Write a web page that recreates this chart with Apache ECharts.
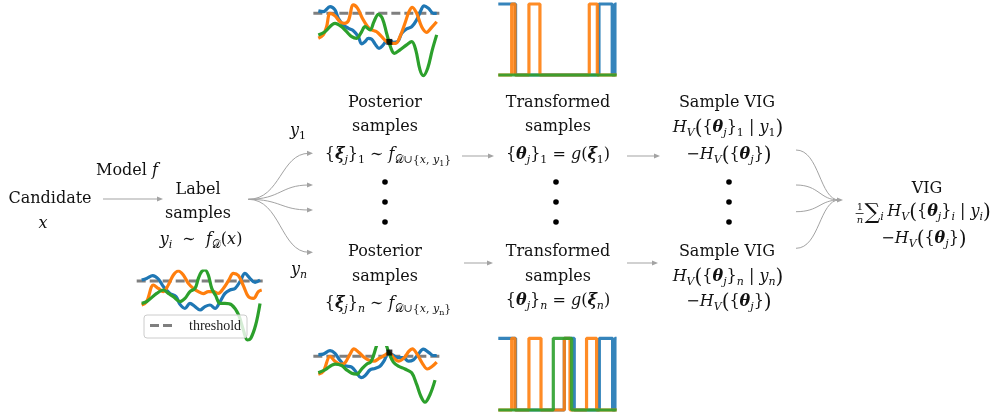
<!DOCTYPE html>
<html>
<head>
<meta charset="utf-8">
<script src="https://cdn.jsdelivr.net/npm/echarts@6/dist/echarts.min.js"></script>
<style>
  html, body { margin: 0; padding: 0; background: #ffffff; }
  #chart { width: 1003px; height: 417px; }
</style>
</head>
<body>
<div id="chart"></div>
<script>
// ---------------- data ----------------
// Smooth sample paths: [t, value]; the decision threshold sits at 1.
const thresholdLevel = 1;
const thresholdSpan = [-0.42, 10.42];

// label samples y_i ~ f_D(x)
const labelBlue = [[0,1.05],[0.42,1.13],[0.93,1.27],[1.41,1.10],[1.83,0.72],[2.39,0.38],[2.90,0.22],[3.24,-0.17],[3.66,-0.37],[4.08,-0.12],[4.51,-0.28],[4.93,-0.45],[5.35,-0.28],[5.77,-0.20],[6.20,-0.37],[6.62,-0.03],[7.04,0.38],[7.46,0.55],[7.89,0.63],[8.31,0.97],[8.73,1.38],[9.15,1.13],[9.58,0.93],[10.0,1.05]];
const labelOrange = [[0,-0.20],[0.42,-0.03],[0.99,0.80],[1.41,0.63],[1.83,0.47],[2.25,0.80],[2.68,1.30],[3.10,1.50],[3.52,1.30],[3.94,0.88],[4.37,0.63],[4.79,0.47],[5.21,0.37],[5.63,0.47],[6.06,0.47],[6.48,0.38],[6.90,0.63],[7.32,1.00],[7.75,1.38],[8.17,1.27],[8.59,0.77],[9.01,0.22],[9.44,0.13],[9.86,0.47],[10.14,0.55]];
const labelGreen = [[0,-0.12],[0.42,-0.03],[1.27,0.38],[1.83,0.55],[2.25,0.38],[2.68,0.22],[3.24,-0.03],[3.66,0.13],[4.08,0.47],[4.51,0.63],[4.79,1.13],[5.07,1.47],[5.35,1.55],[5.63,1.30],[5.92,0.63],[6.25,0.27],[6.62,-0.12],[7.04,-0.12],[7.61,-0.20],[8.17,-0.67],[8.59,-1.45],[8.93,-1.95],[9.21,-1.87],[9.63,-1.20],[10.0,-0.12]];

// posterior samples conditioned on y_1
const postY1Blue = [[0,1.12],[0.42,1.08],[0.99,1.33],[1.41,1.17],[1.69,0.75],[2.11,0.42],[2.54,0.25],[2.96,0.13],[3.38,-0.17],[3.66,-0.53],[3.94,-0.42],[4.23,-0.25],[4.51,-0.30],[4.79,-0.53],[5.13,-0.75],[5.49,-0.58],[5.77,-0.37],[6.06,-0.37],[6.34,-0.45],[6.70,-0.42],[7.04,0.0],[7.46,0.22],[7.89,0.33],[8.31,0.67],[8.68,1.17],[8.93,1.37],[9.30,1.25],[9.72,1.0],[10.0,1.0]];
const postY1Orange = [[0,-0.25],[0.42,-0.08],[0.70,0.33],[0.99,1.0],[1.41,0.87],[1.83,0.58],[2.20,0.50],[2.54,0.63],[2.96,1.42],[3.32,1.25],[3.72,0.75],[4.17,0.33],[4.51,0.17],[4.93,0.08],[5.35,-0.17],[5.77,-0.42],[6.14,-0.50],[6.54,-0.50],[6.90,-0.17],[7.32,0.50],[7.66,1.08],[7.94,1.30],[8.31,1.0],[8.73,0.33],[9.15,0.05],[9.58,0.30],[10.0,0.58]];
const postY1Green = [[0,-0.08],[0.56,0.08],[1.41,0.50],[1.97,0.33],[2.39,0.08],[2.82,-0.17],[3.24,-0.25],[3.66,0.08],[3.94,0.33],[4.37,0.17],[4.70,0.58],[5.07,0.95],[5.41,0.75],[5.77,0.0],[6.14,-0.75],[6.42,-1.0],[6.90,-0.83],[7.46,-0.58],[7.89,-0.42],[8.23,-0.83],[8.59,-1.83],[8.87,-2.12],[9.24,-1.75],[9.63,-0.83],[10.0,-0.08]];
const postY1Observed = [[6.0,-0.43]];

// posterior samples conditioned on y_n
const postYnBlue = [[0,1.10],[0.42,1.13],[0.99,1.33],[1.41,1.17],[1.83,0.77],[2.25,0.47],[2.82,0.38],[3.24,0.05],[3.61,-0.23],[3.94,-0.12],[4.37,0.22],[4.79,0.30],[5.21,0.43],[5.58,0.77],[5.92,1.18],[6.25,1.10],[6.70,0.93],[7.18,0.93],[7.61,0.72],[8.03,0.80],[8.45,1.13],[8.87,1.42],[9.35,1.22],[9.72,1.05],[10.0,1.05]];
const postYnOrange = [[0,-0.03],[0.42,0.13],[0.99,1.0],[1.41,0.72],[1.83,0.55],[2.25,0.63],[2.68,1.13],[3.01,1.43],[3.44,1.22],[3.89,0.93],[4.28,0.77],[4.70,0.72],[5.13,0.88],[5.58,1.05],[5.97,1.22],[6.34,0.93],[6.76,0.72],[7.27,0.93],[7.66,1.30],[7.94,1.43],[8.37,1.10],[8.79,0.60],[9.21,0.27],[9.63,0.43],[10.0,0.67]];
const postYnGreen = [[0,0.05],[0.56,0.22],[1.41,0.55],[1.97,0.47],[2.39,0.22],[2.82,0.02],[3.24,-0.03],[3.66,0.27],[4.08,0.55],[4.42,0.67],[4.70,1.13],[4.99,1.72],[5.35,1.97],[5.69,1.72],[5.97,1.18],[6.34,0.67],[6.76,0.43],[7.32,0.27],[7.89,0.05],[8.31,-0.62],[8.68,-1.33],[9.01,-1.65],[9.44,-1.20],[9.86,-0.37]];
const postYnObserved = [[6.0,1.22]];

// transformed samples g(xi): above / below threshold, [t, state]
const transY1Blue = [[0,1],[14.6,0],[85.1,1],[96.3,0],[98.6,1],[100,1]];
const transY1Orange = [[0,0],[11.3,1],[14.1,0],[25.9,1],[35.2,0],[76.9,1],[83.7,0],[100,0]];
const transY1Green = [[0,0],[100,0]];
const transYnBlue = [[0,1],[14.6,0],[55.8,1],[64.2,0],[85.4,1],[96.6,0],[98.6,1],[100,1]];
const transYnOrange = [[0,0],[11.3,1],[14.1,0],[25.9,1],[36.1,0],[55.8,1],[60.6,0],[74.6,1],[83.1,0],[100,0]];
const transYnGreen = [[0,0],[46.5,1],[62.0,0],[100,0]];

const legendLabel = 'threshold';

// ---------------- style ----------------
const BLUE = '#1f77b4', ORANGE = '#ff7f0e', GREEN = '#2ca02c', GREY = '#7f7f7f';
const SERIF = '"DejaVu Serif", "DejaVu Sans", serif';
const INK = '#111111';
const ARROW = '#a3a3a3';

const chart = echarts.init(document.getElementById('chart'), null, { renderer: 'canvas' });

// grids: 0 posterior|y1, 1 posterior|yn, 2 label samples, 3 transformed|y1, 4 transformed|yn
const grids = [
  { left: 312.4, top: 3.3, width: 130.2, height: 80 },
  { left: 312.4, top: 347.7, width: 130.2, height: 80 },
  { left: 135.75, top: 271, width: 130.2, height: 80 },
  { left: 498.3, top: 4, width: 118.3, height: 71 },
  { left: 498.3, top: 338.3, width: 118.3, height: 71.7 }
];
const xAxes = grids.map((g, i) => i < 3
  ? { gridIndex: i, type: 'value', min: -0.5, max: 10.5, show: false }
  : { gridIndex: i, type: 'value', min: 0, max: 100, show: false });
const yAxes = grids.map((g, i) => i < 3
  ? { gridIndex: i, type: 'value', min: -2.5, max: 1.5, show: false }
  : { gridIndex: i, type: 'value', min: 0, max: 1, show: false });

const series = [];
function threshold(idx) {
  series.push({
    type: 'line', xAxisIndex: idx, yAxisIndex: idx, silent: true, symbol: 'none', z: 1,
    data: thresholdSpan.map(t => [t, thresholdLevel]),
    lineStyle: { color: GREY, width: 3, type: [9, 4] }
  });
}
function curve(idx, data, color) {
  series.push({
    type: 'line', xAxisIndex: idx, yAxisIndex: idx, silent: true, symbol: 'none', smooth: 0.35, z: 2,
    data, lineStyle: { color, width: 3.2 }
  });
}
function observed(idx, data) {
  series.push({
    type: 'scatter', xAxisIndex: idx, yAxisIndex: idx, silent: true, symbol: 'rect', symbolSize: 6, z: 5,
    data, itemStyle: { color: '#000000' }
  });
}
function steps(idx, data, color) {
  series.push({
    type: 'line', xAxisIndex: idx, yAxisIndex: idx, silent: true, symbol: 'none', step: 'end', clip: false, z: 2,
    data, lineStyle: { color, width: 3.2, opacity: 0.9 }
  });
}

threshold(0); curve(0, postY1Blue, BLUE); curve(0, postY1Orange, ORANGE); curve(0, postY1Green, GREEN); observed(0, postY1Observed);
threshold(1); curve(1, postYnBlue, BLUE); curve(1, postYnOrange, ORANGE); curve(1, postYnGreen, GREEN); observed(1, postYnObserved);
threshold(2); curve(2, labelBlue, BLUE); curve(2, labelOrange, ORANGE); curve(2, labelGreen, GREEN);
steps(3, transY1Blue, BLUE); steps(3, transY1Orange, ORANGE); steps(3, transY1Green, GREEN);
steps(4, transYnBlue, BLUE); steps(4, transYnOrange, ORANGE); steps(4, transYnGreen, GREEN);

// ---------------- typeset text ----------------
const KINDS = {
  r:   { size: 16, style: 'normal', weight: 'normal', dy: 0 },
  i:   { size: 16, style: 'italic', weight: 'normal', dy: 0 },
  b:   { size: 16, style: 'italic', weight: 'bold', dy: 0 },
  sr:  { size: 11, style: 'normal', weight: 'normal', dy: 5 },
  si:  { size: 11, style: 'italic', weight: 'normal', dy: 5 },
  ssr: { size: 8,  style: 'normal', weight: 'normal', dy: 8.5 },
  P:   { size: 20, style: 'normal', weight: 'normal', dy: 0.5 },
  S:   { size: 22, style: 'normal', weight: 'normal', dy: 1 },
  fr:  { size: 10, style: 'normal', weight: 'normal', dy: 0 },
  fi:  { size: 10, style: 'italic', weight: 'normal', dy: 0 }
};
const measureCtx = document.createElement('canvas').getContext('2d');
function widthOf(txt, k) {
  measureCtx.font = `${k.style} ${k.weight} ${k.size}px ${SERIF}`;
  return measureCtx.measureText(txt).width;
}
function textEl(txt, k, x, y, align) {
  return {
    type: 'text', x, y, silent: true, z: 10,
    style: { text: txt, fontFamily: SERIF, fontSize: k.size, fontStyle: k.style, fontWeight: k.weight,
             fill: INK, align: align || 'left', verticalAlign: 'middle' }
  };
}
// lays out a run of segments centred on (cx, cy); 'frac' segments stack two small items
function typeset(cx, cy, segs) {
  const items = segs.map(seg => {
    if (seg[1] === 'frac') {
      const w = Math.max(widthOf(seg[0][0], KINDS.fr), widthOf(seg[0][1], KINDS.fi)) + 3;
      return { seg, w };
    }
    return { seg, w: widthOf(seg[0], KINDS[seg[1]]) };
  });
  const total = items.reduce((s, it) => s + it.w, 0);
  let x = cx - total / 2;
  const out = [];
  items.forEach(it => {
    const [txt, kind] = it.seg;
    if (kind === 'frac') {
      const mid = x + it.w / 2;
      out.push(textEl(txt[0], KINDS.fr, mid, cy - 5, 'center'));
      out.push(textEl(txt[1], KINDS.fi, mid, cy + 8, 'center'));
      out.push({ type: 'line', silent: true, z: 10, shape: { x1: x + 0.5, y1: cy + 1.5, x2: x + it.w - 1, y2: cy + 1.5 },
                 style: { stroke: INK, lineWidth: 0.8 } });
    } else {
      const k = KINDS[kind];
      out.push(textEl(txt, k, x, cy + k.dy));
    }
    x += it.w;
  });
  return out;
}

const els = [];
const put = (cx, cy, segs) => els.push(...typeset(cx, cy, segs));

// left block
put(50, 199, [['Candidate', 'r']]);
put(43, 224, [['x', 'i']]);
put(127, 171, [['Model ', 'r'], ['f', 'i']]);
put(198, 190, [['Label', 'r']]);
put(198, 214, [['samples', 'r']]);
put(201, 240, [['y', 'i'], ['i', 'si'], ['  ∼  ', 'r'], ['f', 'i'], ['𝒟', 'sr'], ['(', 'r'], ['x', 'i'], [')', 'r']]);
put(298, 131, [['y', 'i'], ['1', 'sr']]);
put(299, 270, [['y', 'i'], ['n', 'si']]);

// posterior column
const condSub = (s, sKind) => [['𝒟∪{', 'sr'], ['x', 'si'], [', ', 'sr'], ['y', 'si'], [s, sKind], ['}', 'sr']];
put(385, 103, [['Posterior', 'r']]);
put(385, 127, [['samples', 'r']]);
put(388, 155, [['{', 'r'], ['ξ', 'b'], ['j', 'si'], ['}', 'r'], ['1', 'sr'], [' ∼ ', 'r'], ['f', 'i'], ...condSub('1', 'ssr')]);
put(385, 252, [['Posterior', 'r']]);
put(385, 277, [['samples', 'r']]);
put(388, 304, [['{', 'r'], ['ξ', 'b'], ['j', 'si'], ['}', 'r'], ['n', 'si'], [' ∼ ', 'r'], ['f', 'i'], ...condSub('n', 'ssr')]);

// transformed column
put(558, 103, [['Transformed', 'r']]);
put(558, 127, [['samples', 'r']]);
put(558, 155, [['{', 'r'], ['θ', 'b'], ['j', 'si'], ['}', 'r'], ['1', 'sr'], [' = ', 'r'], ['g', 'i'], ['(', 'r'], ['ξ', 'b'], ['1', 'sr'], [')', 'r']]);
put(558, 252, [['Transformed', 'r']]);
put(558, 277, [['samples', 'r']]);
put(558, 301, [['{', 'r'], ['θ', 'b'], ['j', 'si'], ['}', 'r'], ['n', 'si'], [' = ', 'r'], ['g', 'i'], ['(', 'r'], ['ξ', 'b'], ['n', 'si'], [')', 'r']]);

// sample VIG column
const negPrior = [['−', 'r'], ['H', 'i'], ['V', 'si'], ['(', 'P'], ['{', 'r'], ['θ', 'b'], ['j', 'si'], ['}', 'r'], [')', 'P']];
put(727, 103, [['Sample VIG', 'r']]);
put(728, 128, [['H', 'i'], ['V', 'si'], ['(', 'P'], ['{', 'r'], ['θ', 'b'], ['j', 'si'], ['}', 'r'], ['1', 'sr'], [' | ', 'r'], ['y', 'i'], ['1', 'sr'], [')', 'P']]);
put(729, 155, negPrior);
put(727, 252, [['Sample VIG', 'r']]);
put(728, 277, [['H', 'i'], ['V', 'si'], ['(', 'P'], ['{', 'r'], ['θ', 'b'], ['j', 'si'], ['}', 'r'], ['n', 'si'], [' | ', 'r'], ['y', 'i'], ['n', 'si'], [')', 'P']]);
put(729, 302, negPrior);

// VIG
put(927, 189, [['VIG', 'r']]);
put(923, 212, [[['1', 'n'], 'frac'], ['∑', 'S'], ['i', 'si'], [' ', 'sr'], ['H', 'i'], ['V', 'si'], ['(', 'P'], ['{', 'r'], ['θ', 'b'], ['j', 'si'], ['}', 'r'], ['i', 'si'], [' | ', 'r'], ['y', 'i'], ['i', 'si'], [')', 'P']]);
put(924, 239, negPrior);

// vertical ellipses between the y_1 and y_n rows
[385, 556, 729].forEach(x => [182, 202, 222].forEach(y => els.push({
  type: 'circle', silent: true, shape: { cx: x, cy: y, r: 2.8 }, style: { fill: '#000000' }
})));

// arrows
function head(x, y) {
  return { type: 'polygon', silent: true, shape: { points: [[x, y], [x - 6, y - 2.6], [x - 6, y + 2.6]] }, style: { fill: ARROW } };
}
function hArrow(x1, x2, y) {
  els.push({ type: 'line', silent: true, shape: { x1, y1: y, x2: x2 - 4, y2: y }, style: { stroke: ARROW, lineWidth: 1 } });
  els.push(head(x2, y));
}
function sCurve(x1, y1, x2, y2) {
  const mx = (x1 + x2) / 2;
  els.push({ type: 'bezierCurve', silent: true,
    shape: { x1, y1, x2: x2 - 4, y2, cpx1: mx, cpy1: y1, cpx2: mx, cpy2: y2 },
    style: { stroke: ARROW, lineWidth: 1, fill: null } });
}
hArrow(103, 163, 199);
hArrow(462, 494, 156);
hArrow(464, 493, 263);
hArrow(627, 660, 156);
hArrow(627, 658, 263);
[153.3, 185, 210, 252.3].forEach(y => { sCurve(248.3, 199.3, 313, y); els.push(head(313, y)); });
[150, 185, 211.7, 248.3].forEach(y => sCurve(796, y, 843, 200));
els.push(head(843, 200));

// legend of the label-sample panel
els.push({ type: 'rect', silent: true, z: 20, shape: { x: 144, y: 315, width: 103, height: 23, r: 3 },
           style: { fill: 'rgba(255,255,255,0.8)', stroke: '#cccccc', lineWidth: 1 } });
els.push({ type: 'line', silent: true, z: 21, shape: { x1: 150, y1: 325.5, x2: 176, y2: 325.5 },
           style: { stroke: GREY, lineWidth: 3, lineDash: [9, 4] } });
els.push({ type: 'text', silent: true, z: 21, x: 189, y: 326,
           style: { text: legendLabel, fontFamily: '"Liberation Serif", serif', fontSize: 14, fill: '#222222',
                    align: 'left', verticalAlign: 'middle' } });

chart.setOption({
  animation: false,
  backgroundColor: '#ffffff',
  grid: grids,
  xAxis: xAxes,
  yAxis: yAxes,
  series,
  graphic: { elements: els }
});
</script>
</body>
</html>
